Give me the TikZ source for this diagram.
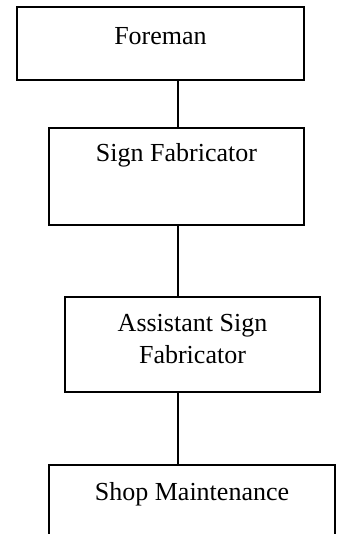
\documentclass[tikz,border=0pt]{standalone}
\usepackage{fontspec}
\setmainfont{Liberation Serif}
\usetikzlibrary{shapes,arrows}

\tikzset{post/.style={draw, line width=1.3pt, inner sep=0pt, align=center,
  font=\fontsize{26}{31.5}\selectfont}}

\begin{document}
\begin{tikzpicture}[x=1pt,y=-1pt]
\clip (0,0) rectangle (342,534);
\node[post, minimum width=287pt, minimum height=73pt, text height=38pt, text depth=35pt] (foreman) at (160.5,43.5) {Foreman};
\node[post, minimum width=255pt, minimum height=97pt, text height=34pt, text depth=63pt] (signfab) at (176.5,176.5) {Sign Fabricator};
\node[post, minimum width=255pt, minimum height=95pt, text height=66pt, text depth=29pt] (asstfab) at (192.5,344.5) {Assistant Sign\\Fabricator};
\node[post, minimum width=286pt, minimum height=95pt, text height=35pt, text depth=60pt] (shop) at (192,512.5) {Shop Maintenance};
\coordinate (spine) at (178,0);
\draw[line width=1.3pt] (foreman.south -| spine) -- (signfab.north -| spine);
\draw[line width=1.3pt] (signfab.south -| spine) -- (asstfab.north -| spine);
\draw[line width=1.3pt] (asstfab.south -| spine) -- (shop.north -| spine);
\end{tikzpicture}
\end{document}
